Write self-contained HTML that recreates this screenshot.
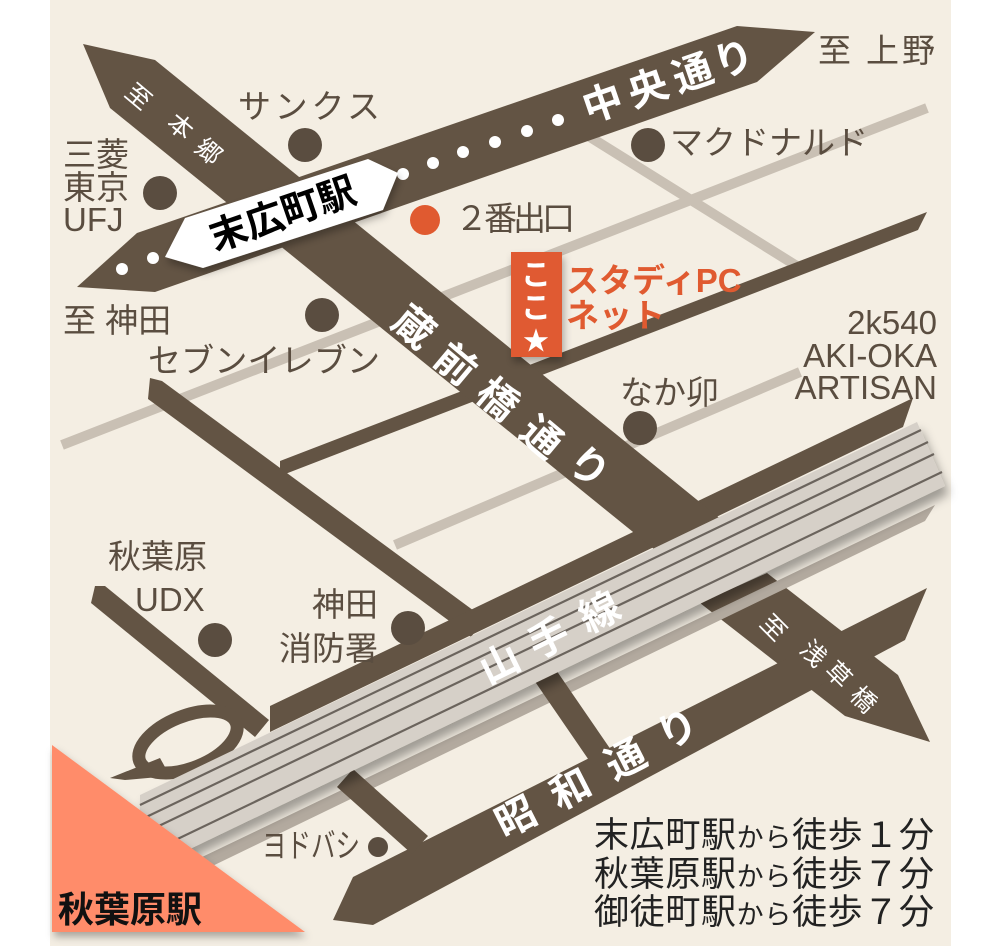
<!DOCTYPE html>
<html><head><meta charset="utf-8"><style>
html,body{margin:0;padding:0;background:#fff;}
svg{display:block;}
text{font-family:"Liberation Sans","Noto Sans CJK JP",sans-serif;}
.lb{fill:#5a4d40;font-size:33px;}
.w{fill:#fff;font-weight:bold;}
</style></head><body>
<svg width="1000" height="946" viewBox="0 0 1000 946" xmlns="http://www.w3.org/2000/svg">
<defs>
<filter id="sh" x="-10%" y="-20%" width="120%" height="150%"><feDropShadow dx="4" dy="8" stdDeviation="5" flood-color="#000" flood-opacity="0.35"/></filter>
<filter id="sh2" x="-10%" y="-20%" width="130%" height="150%"><feDropShadow dx="2" dy="5" stdDeviation="4" flood-color="#000" flood-opacity="0.3"/></filter>
</defs>
<rect x="50" y="0" width="901" height="946" fill="#f4eee3"/>

<g stroke="#c9c0b4" stroke-width="10" fill="none">
<line x1="590" y1="137" x2="800" y2="268"/>
<line x1="927" y1="108" x2="62" y2="445"/>
<line x1="800" y1="372" x2="395" y2="545"/>
</g>

<g fill="#635444">
<polygon points="280,461 927,212 918,230 280,476"/>
<polygon points="150,378 162,381 485,619 471,637 148,399"/>
<polygon points="95,586 105,586 269,720 255,737 91,603"/>
<polygon points="110,778 160,758 170,776 125,780"/>
<polygon points="270,706 913,398 903,427 270,732"/>
<polygon points="83,44 155,60 728,525 670,562 110,108"/>
<polygon points="700,603 767,573 898,675 930,742 845,716"/>
</g>
<ellipse cx="188" cy="742" rx="52" ry="26" transform="rotate(-22 188 742)" fill="none" stroke="#635444" stroke-width="13"/>

<polygon points="200,858 935,505 925,521 200,872" fill="#b3aa9f"/>

<g fill="#635444">
<polygon points="333,920 353,877 927,588 905,640 373,925"/>
<line x1="345" y1="778" x2="420" y2="845" stroke="#635444" stroke-width="24"/>
<line x1="545" y1="675" x2="602" y2="758" stroke="#635444" stroke-width="24"/>
</g>

<g filter="url(#sh)">
<polygon points="140,795 917,422 945,486 140,873" fill="#d6d0c8"/>
</g>
<g stroke="#6b645d" stroke-width="2.2">
<line x1="140" y1="805" x2="921" y2="430"/>
<line x1="140" y1="820" x2="928" y2="442"/>
<line x1="140" y1="835" x2="934" y2="454"/>
<line x1="140" y1="857" x2="942" y2="472"/>
</g>

<polygon points="77,287 137,233 737,26 815,32 757,82 155,292" fill="#635444"/>
<g fill="#fff">
<circle cx="122" cy="269" r="6"/><circle cx="153" cy="258" r="6"/>
<circle cx="403" cy="174" r="6"/><circle cx="433" cy="163" r="6"/><circle cx="463" cy="152" r="6"/>
<circle cx="495" cy="142" r="6"/><circle cx="527" cy="131" r="6"/><circle cx="558" cy="120" r="6"/>
</g>
<g class="w" font-size="40" text-anchor="middle" dominant-baseline="central">
<text transform="translate(603,104) rotate(-19)">中</text>
<text transform="translate(648,89) rotate(-19)">央</text>
<text transform="translate(693,74) rotate(-19)">通</text>
<text transform="translate(734,60) rotate(-19)">り</text>
</g>

<g filter="url(#sh2)">
<polygon points="165,257 185,218 368,159 398,173 383,210 203,268" fill="#fff"/>
</g>
<text transform="translate(283,215) rotate(-19)" text-anchor="middle" dominant-baseline="central" font-size="38" font-weight="bold" fill="#000">末広町駅</text>

<g fill="#fff" font-size="25" text-anchor="middle" dominant-baseline="central">
<text transform="translate(138,97) rotate(40)">至</text>
<text transform="translate(180,127) rotate(40)">本</text>
<text transform="translate(208,152) rotate(40)">郷</text>
<text transform="translate(773,628) rotate(45)">至</text>
<text transform="translate(813,654) rotate(45)">浅</text>
<text transform="translate(838,675) rotate(45)">草</text>
<text transform="translate(863,700) rotate(45)">橋</text>
</g>
<g class="w" font-size="40" text-anchor="middle" dominant-baseline="central">
<text transform="translate(413,328) rotate(40)">蔵</text>
<text transform="translate(455,365) rotate(40)">前</text>
<text transform="translate(497,400) rotate(40)">橋</text>
<text transform="translate(541,438) rotate(40)">通</text>
<text transform="translate(588,468) rotate(40)">り</text>
<text transform="translate(500,664) rotate(-26)">山</text>
<text transform="translate(549,639) rotate(-26)">手</text>
<text transform="translate(600,613) rotate(-26)">線</text>
<text transform="translate(516,818) rotate(-27)">昭</text>
<text transform="translate(571,790) rotate(-27)">和</text>
<text transform="translate(626,760) rotate(-27)">通</text>
<text transform="translate(678,730) rotate(-27)">り</text>
</g>

<g fill="#5a4d40">
<circle cx="305" cy="145" r="17"/>
<circle cx="160" cy="193" r="17"/>
<circle cx="322" cy="315" r="17"/>
<circle cx="648" cy="145" r="17"/>
<circle cx="640" cy="428" r="17"/>
<circle cx="215" cy="640" r="17"/>
<circle cx="408" cy="628" r="17"/>
<circle cx="378" cy="847" r="10"/>
</g>
<circle cx="425" cy="220" r="15" fill="#e05a30"/>

<text class="lb" x="238" y="118" textLength="142" font-size="34">サンクス</text>
<text class="lb" x="63" y="166" font-size="31">三菱</text>
<text class="lb" x="63" y="199" font-size="31">東京</text>
<text class="lb" x="63" y="231" font-size="31">UFJ</text>
<text class="lb" x="63" y="332" font-size="30">至 神田</text>
<text class="lb" x="148" y="372" textLength="232" font-size="34">セブンイレブン</text>
<text class="lb" x="455" y="230" textLength="120" font-size="33">２番出口</text>
<text class="lb" x="670" y="154" textLength="198" font-size="34">マクドナルド</text>
<text class="lb" x="818" y="62" font-size="30" textLength="117">至 上野</text>
<g class="lb" font-size="28" text-anchor="end">
<text x="937" y="334">2k540</text>
<text x="937" y="367">AKI-OKA</text>
<text x="937" y="399">ARTISAN</text>
</g>
<text class="lb" x="620" y="404" font-size="36">なか卯</text>
<text class="lb" x="108" y="568" font-size="37">秋葉原</text>
<text class="lb" x="135" y="611" font-size="37">UDX</text>
<text class="lb" x="378" y="616" font-size="35" text-anchor="end">神田</text>
<text class="lb" x="378" y="660" font-size="35" text-anchor="end">消防署</text>
<text class="lb" x="262" y="857" font-size="20" textLength="98" lengthAdjust="spacingAndGlyphs">ヨドバシ</text>

<rect x="511" y="252" width="51" height="105" fill="#e05a30" filter="url(#sh2)"/>
<g class="w" font-size="30" text-anchor="middle">
<text x="536" y="285">こ</text>
<text x="536" y="318">こ</text>
<text x="536" y="350" font-size="26">★</text>
</g>
<g fill="#e05a30" font-weight="bold" font-size="33">
<text x="566" y="292">スタディPC</text>
<text x="566" y="327">ネット</text>
</g>

<g fill="#222" font-size="35">
<text x="594" y="847" textLength="340">末広町駅<tspan font-size="27">から</tspan>徒歩１分</text>
<text x="594" y="886" textLength="340">秋葉原駅<tspan font-size="27">から</tspan>徒歩７分</text>
<text x="594" y="924" textLength="340">御徒町駅<tspan font-size="27">から</tspan>徒歩７分</text>
</g>

<polygon points="52,745 52,932 305,932" fill="#ff8c6b" filter="url(#sh2)"/>
<text x="58" y="922" font-size="36" font-weight="bold" fill="#111">秋葉原駅</text>
</svg>
</body></html>
